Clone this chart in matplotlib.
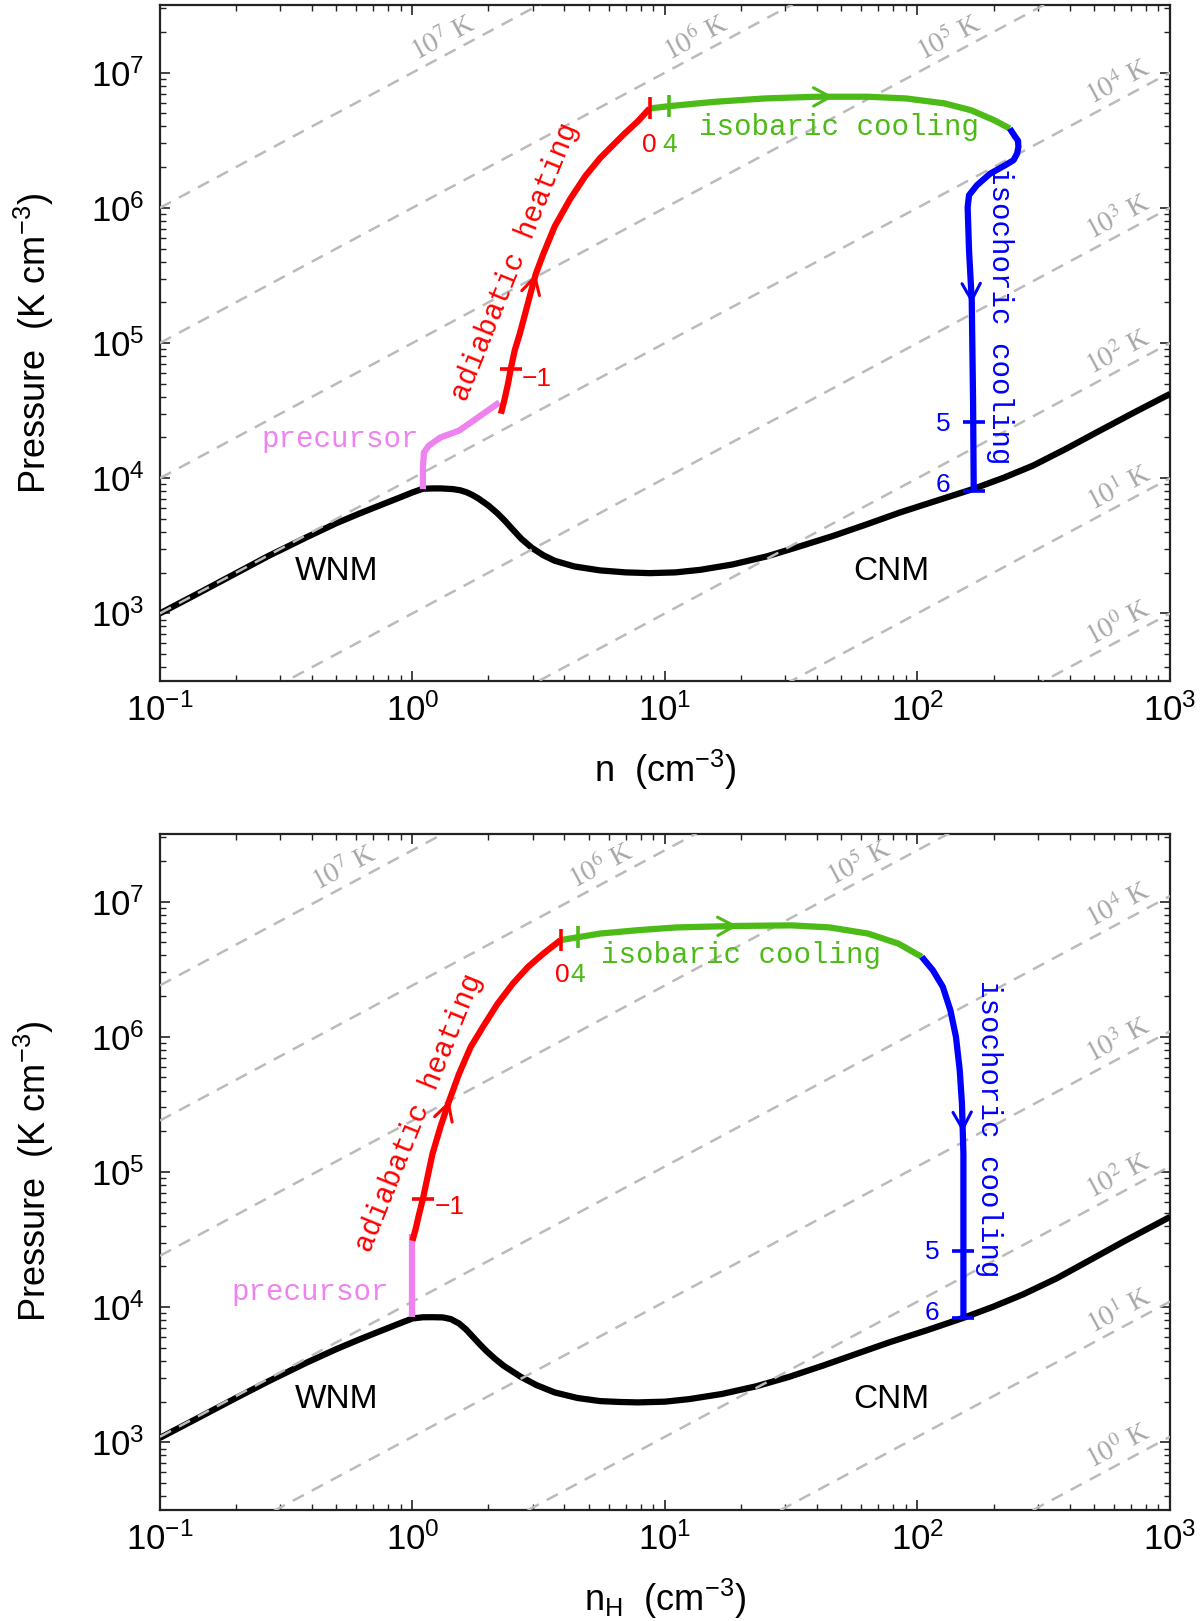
import numpy as np
import matplotlib
matplotlib.use("Agg")
import matplotlib.pyplot as plt
from matplotlib.ticker import LogLocator, NullFormatter

plt.rcParams['font.family'] = 'Liberation Sans'
plt.rcParams['mathtext.fontset'] = 'custom'
plt.rcParams['mathtext.rm'] = 'Liberation Sans'
plt.rcParams['mathtext.it'] = 'Liberation Sans:italic'
plt.rcParams['mathtext.bf'] = 'Liberation Sans:bold'
plt.rcParams['axes.unicode_minus'] = False
plt.rcParams['lines.scale_dashes'] = False

# ---------------- data ----------------
ISO_T = [1e0, 1e1, 1e2, 1e3, 1e4, 1e5, 1e6, 1e7]
ISO_LABELS = ['$10^{0}$ K', '$10^{1}$ K', '$10^{2}$ K', '$10^{3}$ K',
              '$10^{4}$ K', '$10^{5}$ K', '$10^{6}$ K', '$10^{7}$ K']
ISO_FACTOR_TOP = [1, 1, 1, 1, 1, 1, 1, 1]
ISO_FACTOR_BOT = [1.1, 1.1, 1.1, 1.1, 1.1, 2.4, 2.4, 2.4]
ISO_LABEL_N_TOP = [627, 627, 627, 627, 627, 133, 13.3, 1.33]
ISO_LABEL_N_BOT = [627, 627, 627, 627, 627, 59, 5.6, 0.54]

# top panel (n)
TOP_EQ_N = [0.1, 0.14, 0.2, 0.268, 0.38, 0.5, 0.62, 0.76, 0.9, 1.0, 1.10, 1.20, 1.30,
            1.45, 1.55, 1.64, 1.73, 1.82, 2.0, 2.17, 2.33, 2.49, 2.7, 2.97, 3.3, 3.66,
            4.37, 5.53, 7.0, 8.7, 11, 13.8, 18.5, 25.3, 34, 46.5, 63, 85.3, 120, 166,
            220, 287, 390, 528, 730, 1000]
TOP_EQ_P = [1000, 1390, 1980, 2650, 3650, 4650, 5500, 6400, 7250, 7850, 8350, 8400, 8400,
            8300, 8130, 7860, 7500, 7100, 6270, 5500, 4810, 4190, 3560, 3055, 2690, 2450,
            2225, 2080, 2010, 1985, 2010, 2100, 2300, 2640, 3120, 3750, 4560, 5580, 6850, 8320,
            10100, 12400, 16600, 22500, 31000, 42000]
TOP_PRE_N = [1.10, 1.10, 1.11, 1.16, 1.29, 1.53, 1.82, 2.21]
TOP_PRE_P = [8300, 12000, 15500, 17400, 20000, 22500, 28200, 36400]
TOP_RED_N = [2.24, 2.31, 2.39, 2.45, 2.54, 2.66, 2.77, 2.92, 3.08, 3.30, 3.66, 4.21,
             4.84, 5.53, 6.82, 7.84, 8.69]
TOP_RED_P = [3.0e4, 3.75e4, 5.0e4, 6.44e4, 8.8e4, 1.17e5, 1.55e5, 2.25e5, 3.25e5, 4.58e5,
             7.3e5, 1.16e6, 1.72e6, 2.33e6, 3.45e6, 4.4e6, 5.43e6]
TOP_GRN_N = [8.69, 10.4, 15.7, 24.8, 39.7, 63.7, 90.2, 128, 163, 201, 232]
TOP_GRN_P = [5.43e6, 5.65e6, 6.08e6, 6.44e6, 6.63e6, 6.63e6, 6.44e6, 5.92e6, 5.27e6, 4.45e6, 3.86e6]
TOP_BLU_N = [232, 244, 250, 251, 248, 240, 223, 194, 172, 160, 158, 160, 164, 166, 167]
TOP_BLU_P = [3.86e6, 3.34e6, 3.14e6, 2.82e6, 2.52e6, 2.25e6, 2.07e6, 1.79e6, 1.47e6, 1.24e6,
             1.01e6, 4.84e5, 2.07e5, 3.75e4, 8100]
TOP_TICKS = [(-1, 2.45, 6.44e4), (0, 8.69, 5.43e6), (4, 10.4, 5.65e6), (5, 167, 2.59e4), (6, 167, 8100)]
TOP_TICK_TXT = [(3.1, 5.46e4), (8.7, 2.9e6), (10.4, 2.9e6), (126, 2.51e4), (126, 8950)]
TOP_ARROWS = [((2.92, 2.25e5), (3.08, 3.25e5)), ((36, 6.6e6), (46.5, 6.63e6)), ((163, 3.0e5), (164, 1.96e5))]

# bottom panel (n_H)
BOT_EQ_N = [0.1, 0.14, 0.2, 0.268, 0.38, 0.5, 0.62, 0.76, 0.9, 1.0, 1.1, 1.2, 1.32, 1.42,
            1.53, 1.63, 1.73, 1.84, 1.96, 2.12, 2.3, 2.68, 3.1, 3.66, 4.5, 5.53, 6.6, 7.8,
            10, 12.5, 16.8, 23, 31, 42.3, 57, 77.5, 109, 151, 200, 261, 355, 480, 664, 1000]
BOT_EQ_P = [1080, 1500, 2130, 2820, 3880, 4900, 5800, 6750, 7650, 8250, 8420, 8430, 8400, 8160,
            7570, 6840, 6070, 5360, 4750, 4160, 3680, 3060, 2650, 2340, 2130, 2020, 1990, 1975,
            2000, 2090, 2280, 2600, 3050, 3700, 4500, 5500, 6750, 8300, 10100, 12400, 16300,
            22200, 31000, 46500]
BOT_PRE_N = [1.0, 1.0]
BOT_PRE_P = [8400, 3.45e4]
BOT_RED_N = [1.0, 1.03, 1.06, 1.10, 1.20, 1.29, 1.40, 1.53, 1.70, 1.92, 2.17, 2.50, 2.87, 3.30, 3.86]
BOT_RED_P = [3.1e4, 3.8e4, 4.8e4, 6.33e4, 1.36e5, 2.15e5, 3.39e5, 5.34e5, 8.4e5, 1.22e6,
             1.75e6, 2.48e6, 3.29e6, 4.13e6, 5.19e6]
BOT_GRN_N = [3.86, 4.52, 5.53, 7.84, 11.1, 18.7, 31.7, 44.9, 63.7, 84, 104]
BOT_GRN_P = [5.19e6, 5.45e6, 5.8e6, 6.15e6, 6.44e6, 6.6e6, 6.67e6, 6.44e6, 5.8e6, 4.89e6, 3.9e6]
BOT_BLU_N = [104, 115, 126, 135, 142, 147, 150, 152, 152, 152]
BOT_BLU_P = [3.9e6, 3.11e6, 2.34e6, 1.57e6, 1.0e6, 5.65e5, 3.2e5, 1.36e5, 4.4e4, 8300]
BOT_TICKS = [(-1, 1.10, 6.33e4), (0, 3.86, 5.19e6), (4, 4.52, 5.45e6), (5, 152, 2.62e4), (6, 152, 8300)]
BOT_TICK_TXT = [(1.41, 5.5e4), (3.93, 2.86e6), (4.52, 2.86e6), (114, 2.55e4), (114, 9050)]
BOT_ARROWS = [((1.33, 2.5e5), (1.40, 3.39e5)), ((15, 6.55e6), (19.4, 6.6e6)), ((150, 3.2e5), (151, 1.97e5))]

# text label positions
TOP_TXT = dict(adiab=(2.54, 4.0e5), prec=(1.06, 1.95e4), isob=(48.7, 3.96e6),
               isoch=(212, 1.6e5), wnm=(0.5, 2030), cnm=(79, 2030))
BOT_TXT = dict(adiab=(1.06, 2.76e5), prec=(0.81, 1.29e4), isob=(20, 4.0e6),
               isoch=(192, 2.08e5), wnm=(0.5, 2080), cnm=(79, 2080))

RED = '#FF0000'
GRN = '#4CBB17'
BLU = '#0000FF'
VIO = '#EE82EE'
GRAY = '#BBBBBB'
LGRAY = '#A8A8A8'
MONO = 'Liberation Mono'

fig = plt.figure(figsize=(12, 16.21), dpi=100)
ax_top = fig.add_axes([0.1333, 0.5799, 0.8417, 0.4170])
ax_bot = fig.add_axes([0.1333, 0.0685, 0.8417, 0.4170])


def panel(ax, fac, lab_n, eqn, eqp, pren, prep, redn, redp, grnn, grnp, blun, blup,
          ticks, ticktxt, arrows, txt, xlabel):
    ax.set_xscale('log')
    ax.set_yscale('log')
    ax.set_xlim(0.1, 1000)
    ax.set_ylim(10 ** 2.5, 10 ** 7.5)

    # isotherm angle in display space
    p0 = ax.transData.transform((1.0, 1e4))
    p1 = ax.transData.transform((10.0, 1e5))
    ang = np.degrees(np.arctan2(p1[1] - p0[1], p1[0] - p0[0]))

    xs = np.array([0.1, 1000.0])
    for T, f, lab, nl in zip(ISO_T, fac, ISO_LABELS, lab_n):
        ax.plot(xs, f * T * xs, color=GRAY, lw=1.8, dashes=(9, 6.5), zorder=4)
        ax.text(nl, f * T * nl * 10 ** 0.13, lab, color=LGRAY, fontsize=20,
                family='Liberation Serif', math_fontfamily='stix',
                rotation=ang, rotation_mode='anchor', ha='center', va='center', zorder=6)

    kw = dict(lw=4.5, solid_capstyle='butt', solid_joinstyle='round')
    ax.plot(eqn, eqp, color='black', zorder=3, **kw)
    ax.plot(pren, prep, color=VIO, zorder=5, **kw)
    ax.plot(redn, redp, color=RED, zorder=5, **kw)
    ax.plot(grnn, grnp, color=GRN, zorder=5, **kw)
    ax.plot(blun, blup, color=BLU, zorder=5, **kw)

    cols = [RED, RED, GRN, BLU, BLU]
    marks = ['_', '|', '|', '_', '_']
    for (lab, tn, tp), (xn, xp), c, m in zip(ticks, ticktxt, cols, marks):
        ax.plot([tn], [tp], marker=m, ms=16, mew=2.6, color=c, zorder=6)
        ax.text(xn, xp, str(lab).replace('-', '\u2212'), color=c, fontsize=19,
                ha='center', va='center', zorder=6)

    for (tail, tip), c in zip(arrows, [RED, GRN, BLU]):
        ax.annotate('', xy=tip, xytext=tail,
                    arrowprops=dict(arrowstyle='->,head_length=0.55,head_width=0.3',
                                    color=c, lw=2.2, mutation_scale=22,
                                    shrinkA=0, shrinkB=0), zorder=6)

    ax.text(*txt['adiab'], 'adiabatic heating', color=RED, family=MONO, fontsize=21,
            rotation=68, ha='center', va='center', zorder=6)
    ax.text(*txt['prec'], 'precursor', color=VIO, family=MONO, fontsize=21,
            ha='right', va='center', zorder=6)
    ax.text(*txt['isob'], 'isobaric cooling', color=GRN, family=MONO, fontsize=21,
            ha='center', va='center', zorder=6)
    ax.text(*txt['isoch'], 'isochoric cooling', color=BLU, family=MONO, fontsize=21,
            rotation=-90, ha='center', va='center', zorder=6)
    ax.text(*txt['wnm'], 'WNM', color='black', fontsize=24, ha='center', va='center', zorder=6)
    ax.text(*txt['cnm'], 'CNM', color='black', fontsize=24, ha='center', va='center', zorder=6)

    ax.xaxis.set_major_locator(LogLocator(base=10, numticks=20))
    ax.yaxis.set_major_locator(LogLocator(base=10, numticks=20))
    ax.xaxis.set_minor_locator(LogLocator(base=10, subs=np.arange(2, 10), numticks=20))
    ax.yaxis.set_minor_locator(LogLocator(base=10, subs=np.arange(2, 10), numticks=20))
    ax.xaxis.set_minor_formatter(NullFormatter())
    ax.yaxis.set_minor_formatter(NullFormatter())
    ax.tick_params(which='both', direction='in', top=True, right=True, color='#222222')
    ax.tick_params(which='major', length=7, width=1.2, labelsize=25)
    ax.tick_params(axis='x', which='major', pad=9)
    ax.tick_params(axis='y', which='major', pad=11)
    ax.tick_params(which='minor', length=4, width=1.0)
    for s in ax.spines.values():
        s.set_linewidth(1.6)
        s.set_color('#222222')
    ax.set_ylabel('Pressure  (K cm$^{-3}$)', fontsize=26, labelpad=25)
    ax.set_xlabel(xlabel, fontsize=26, labelpad=14)


panel(ax_top, ISO_FACTOR_TOP, ISO_LABEL_N_TOP, TOP_EQ_N, TOP_EQ_P, TOP_PRE_N, TOP_PRE_P,
      TOP_RED_N, TOP_RED_P, TOP_GRN_N, TOP_GRN_P, TOP_BLU_N, TOP_BLU_P,
      TOP_TICKS, TOP_TICK_TXT, TOP_ARROWS, TOP_TXT, 'n  (cm$^{-3}$)')
panel(ax_bot, ISO_FACTOR_BOT, ISO_LABEL_N_BOT, BOT_EQ_N, BOT_EQ_P, BOT_PRE_N, BOT_PRE_P,
      BOT_RED_N, BOT_RED_P, BOT_GRN_N, BOT_GRN_P, BOT_BLU_N, BOT_BLU_P,
      BOT_TICKS, BOT_TICK_TXT, BOT_ARROWS, BOT_TXT, 'n$_\\mathrm{H}$  (cm$^{-3}$)')

fig.savefig('out.png', dpi=100)
